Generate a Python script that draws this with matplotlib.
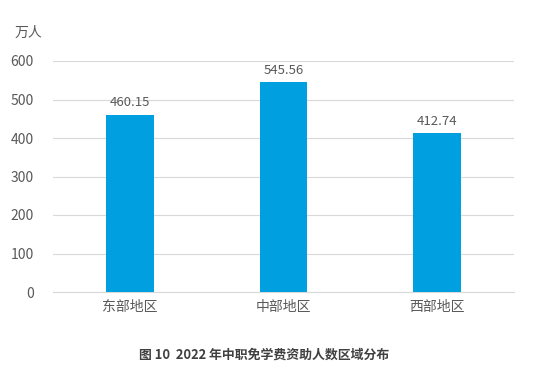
import matplotlib
matplotlib.use("Agg")
import matplotlib.pyplot as plt

plt.rcParams['font.family'] = ['Noto Sans CJK SC', 'DejaVu Sans']

categories = ["东部地区", "中部地区", "西部地区"]
values = [460.15, 545.56, 412.74]
yticks = [0, 100, 200, 300, 400, 500, 600]

fig = plt.figure(figsize=(5.51, 3.88), dpi=100)
ax = fig.add_axes([53/551, 1-292/388, 461/551, 231/388])
x = list(range(len(categories)))
ax.bar(x, values, width=0.31, color="#009FDF", zorder=3)
for xi, v in zip(x, values):
    ax.text(xi, v + 14, f"{v:.2f}", ha="center", va="bottom", fontsize=9.5, color="#595959")
ax.set_xlim(-0.5, 2.5)
ax.set_ylim(0, 600)
ax.set_yticks(yticks)
ax.set_xticks(x)
ax.set_xticklabels(categories)
ax.tick_params(axis='both', length=0, labelsize=10, colors="#595959")
ax.tick_params(axis='y', pad=14)
ax.tick_params(axis='x', pad=6)
ax.grid(axis='y', color="#d9d9d9", linewidth=0.8, zorder=0)
for s in ["top", "right", "left"]:
    ax.spines[s].set_visible(False)
ax.spines["bottom"].set_color("#d9d9d9")
ax.spines["bottom"].set_linewidth(0.8)
fig.text(15/551, 1-33/388, "万人", fontsize=10, color="#595959", va="center", ha="left")
fig.text(264/551, 1-355/388, "图 10  2022 年中职免学费资助人数区域分布", fontsize=9.3, color="#404040",
         fontweight="bold", ha="center", va="center")
fig.savefig("out.png", dpi=100)
